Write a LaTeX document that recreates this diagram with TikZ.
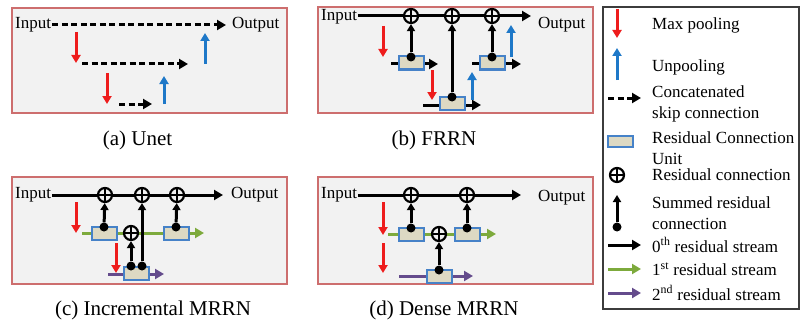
\documentclass[tikz,border=0pt]{standalone}
\usepackage{fontspec}
\setmainfont{Liberation Serif}
\usetikzlibrary{arrows.meta}
\definecolor{panelred}{RGB}{205,110,110}
\definecolor{panelgray}{RGB}{242,242,242}
\definecolor{poolred}{RGB}{238,28,28}
\definecolor{unpoolblue}{RGB}{30,120,200}
\definecolor{greenS}{RGB}{125,170,60}
\definecolor{purpleS}{RGB}{100,75,140}
\definecolor{rcublue}{RGB}{70,130,200}
\definecolor{rcufill}{RGB}{221,217,195}
\definecolor{legframe}{RGB}{60,60,60}
\begin{document}
\begin{tikzpicture}[x=1pt,y=-1pt,
  panel/.style={draw=panelred, fill=panelgray, line width=1.6pt, inner sep=0},
  lbl/.style={font=\fontsize{17}{21}\selectfont, inner sep=1pt},
  leg/.style={font=\fontsize{17}{21}\selectfont, inner sep=0, anchor=west, align=left},
  captxt/.style={font=\fontsize{21}{24}\selectfont, inner sep=0},
  rcu/.style={draw=rcublue, fill=rcufill, line width=2pt, minimum width=25pt, minimum height=13pt, inner sep=0},
  oplus/.style={circle, draw, line width=2.2pt, fill=panelgray, minimum size=14pt, inner sep=0,
    path picture={\draw[line width=1.8pt] (path picture bounding box.north) -- (path picture bounding box.south) (path picture bounding box.west) -- (path picture bounding box.east);}},
  sdot/.style={circle, fill=black, minimum size=9pt, inner sep=0},
  stream/.style={line width=3pt, -{Triangle[length=9pt,width=10pt]}},
  skipc/.style={stream, dash pattern=on 6pt off 3.5pt},
  pool/.style={draw=poolred, line width=3pt, -{Triangle[length=8pt,width=9pt]}},
  unpool/.style={draw=unpoolblue, line width=3pt, -{Triangle[length=8pt,width=9pt]}},
  summed/.style={line width=3pt, -{Triangle[length=7pt,width=8pt]}}
]
\useasboundingbox (0,0) rectangle (800,329);

% ================= (a) Unet =================
\node[panel, minimum width=275pt, minimum height=105pt] (pa) at (149.5,60.5) {};
\node[lbl, anchor=west] (ain) at (14,25) {Input};
\node[lbl, anchor=west] (aout) at (231,25) {Output};
\draw[skipc, shorten >=5pt] (ain) -- (aout);
\coordinate (a2s) at (82,64); \coordinate (a2e) at (188,64);
\coordinate (a3s) at (119,104); \coordinate (a3e) at (152,104);
\draw[skipc] (a2s) -- (a2e);
\draw[skipc] (a3s) -- (a3e);
\coordinate (ap1s) at (76,32); \coordinate (ap1e) at (76,63);
\coordinate (ap2s) at (107,73); \coordinate (ap2e) at (107,104);
\draw[pool] (ap1s) -- (ap1e);
\draw[pool] (ap2s) -- (ap2e);
\coordinate (au1s) at (205,64); \coordinate (au1e) at (205,33);
\coordinate (au2s) at (164,104); \coordinate (au2e) at (164,76);
\draw[unpool] (au1s) -- (au1e);
\draw[unpool] (au2s) -- (au2e);
\node[captxt] (capa) at (137.5,140) {(a) Unet};

% ================= (b) FRRN =================
\node[panel, minimum width=275pt, minimum height=106pt] (pb) at (455.5,60) {};
\node[lbl, anchor=west] (bin) at (320,17) {Input};
\node[lbl, anchor=west] (bout) at (537,25) {Output};
\coordinate (bend) at (531,16);
\draw[stream] (bin.east |- 0,16) -- (bend);
\coordinate (b1s) at (391,64); \coordinate (b1e) at (438,64);
\coordinate (b2s) at (423,105); \coordinate (b2e) at (481,105);
\coordinate (b3s) at (472,64); \coordinate (b3e) at (521,64);
\draw[stream] (b1s) -- (b1e);
\draw[stream] (b2s) -- (b2e);
\draw[stream] (b3s) -- (b3e);
\node[rcu] (brcu1) at (411,63) {};
\node[rcu] (brcu2) at (452,103) {};
\node[rcu] (brcu3) at (492,63) {};
\node[oplus] (bo1) at (411,16) {};
\node[oplus] (bo2) at (452,16) {};
\node[oplus] (bo3) at (492,16) {};
\node[sdot] (bd1) at (411,57) {};
\node[sdot] (bd2) at (452,97) {};
\node[sdot] (bd3) at (492,57) {};
\draw[summed] (bd1) -- (bo1);
\draw[summed] (bd2) -- (bo2);
\draw[summed] (bd3) -- (bo3);
\coordinate (bp1s) at (383,26); \coordinate (bp1e) at (383,57);
\coordinate (bp2s) at (432,70); \coordinate (bp2e) at (432,100);
\draw[pool] (bp1s) -- (bp1e);
\draw[pool] (bp2s) -- (bp2e);
\coordinate (bu1s) at (472,100); \coordinate (bu1e) at (472,72);
\coordinate (bu2s) at (511,57); \coordinate (bu2e) at (511,25);
\draw[unpool] (bu1s) -- (bu1e);
\draw[unpool] (bu2s) -- (bu2e);
\node[captxt] (capb) at (434,140) {(b) FRRN};

% ================= (c) Incremental MRRN =================
\node[panel, minimum width=275pt, minimum height=107pt] (pc) at (149.5,230.5) {};
\node[lbl, anchor=west] (cin) at (14,195) {Input};
\node[lbl, anchor=west] (cout) at (230,195) {Output};
\coordinate (cend) at (223,195);
\draw[stream] (cin) -- (cend);
\coordinate (cgs) at (82,233); \coordinate (cge) at (204,233);
\draw[stream, greenS] (cgs) -- (cge);
\coordinate (cps) at (108,274); \coordinate (cpe) at (164,274);
\draw[stream, purpleS] (cps) -- (cpe);
\node[rcu] (crcu1) at (104,233) {};
\node[rcu] (crcu2) at (176,233) {};
\node[rcu] (crcu3) at (136,273) {};
\node[oplus] (co1) at (105,195) {};
\node[oplus] (co2) at (142,195) {};
\node[oplus] (co3) at (177,195) {};
\node[oplus] (co4) at (131,233) {};
\node[sdot] (cd1) at (104,227) {};
\node[sdot] (cd2) at (176,227) {};
\node[sdot] (cd3) at (131,266) {};
\node[sdot] (cd4) at (142,266) {};
\draw[summed] (cd1) -- (co1);
\draw[summed] (cd2) -- (co3);
\draw[summed] (cd3) -- (co4);
\draw[summed] (cd4) -- (co2);
\coordinate (cp1s) at (76,202); \coordinate (cp1e) at (76,233);
\coordinate (cp2s) at (116,243); \coordinate (cp2e) at (116,273);
\draw[pool] (cp1s) -- (cp1e);
\draw[pool] (cp2s) -- (cp2e);
\node[captxt] (capc) at (153,310) {(c) Incremental MRRN};

% ================= (d) Dense MRRN =================
\node[panel, minimum width=275pt, minimum height=107pt] (pd) at (455.5,230.5) {};
\node[lbl, anchor=west] (din) at (320,195) {Input};
\node[lbl, anchor=west] (dout) at (537,198) {Output};
\coordinate (dend) at (521,195);
\draw[stream] (din) -- (dend);
\coordinate (dgs) at (388,234); \coordinate (dge) at (496,234);
\draw[stream, greenS] (dgs) -- (dge);
\coordinate (dps) at (399,276); \coordinate (dpe) at (473,276);
\draw[stream, purpleS] (dps) -- (dpe);
\node[rcu] (drcu1) at (411,234) {};
\node[rcu] (drcu2) at (467,234) {};
\node[rcu] (drcu3) at (439,276) {};
\node[oplus] (do1) at (411,195) {};
\node[oplus] (do2) at (467,195) {};
\node[oplus] (do3) at (439,234) {};
\node[sdot] (dd1) at (411,228) {};
\node[sdot] (dd2) at (467,228) {};
\node[sdot] (dd3) at (439,270) {};
\draw[summed] (dd1) -- (do1);
\draw[summed] (dd2) -- (do2);
\draw[summed] (dd3) -- (do3);
\coordinate (dp1s) at (383,202); \coordinate (dp1e) at (383,235);
\coordinate (dp2s) at (383,243); \coordinate (dp2e) at (383,273);
\draw[pool] (dp1s) -- (dp1e);
\draw[pool] (dp2s) -- (dp2e);
\node[captxt] (capd) at (444,310) {(d) Dense MRRN};

% ================= Legend =================
\node[draw=legframe, fill=white, line width=2pt, minimum width=196pt, minimum height=302pt, inner sep=0] (lg) at (701,158) {};
\coordinate (lp1s) at (617,9); \coordinate (lp1e) at (617,38);
\draw[pool] (lp1s) -- (lp1e);
\node[leg] (t1) at (652,25) {Max pooling};
\coordinate (lu1s) at (617,80); \coordinate (lu1e) at (617,48);
\draw[unpool] (lu1s) -- (lu1e);
\node[leg] (t2) at (652,67) {Unpooling};
\coordinate (lks) at (608,98); \coordinate (lke) at (641,98);
\draw[skipc] (lks) -- (lke);
\node[leg] (t3) at (652,104) {Concatenated\\skip connection};
\node[rcu, minimum height=11pt] (lrcu) at (620.5,141.5) {};
\node[leg] (t4) at (652,148.5) {Residual Connection\\Unit};
\node[oplus, fill=white] (lo) at (617,175) {};
\node[leg] (t5) at (652,175) {Residual connection};
\node[sdot] (ld) at (617,227) {};
\coordinate (lse) at (617,195);
\draw[summed] (ld) -- (lse);
\node[leg] (t6) at (652,213) {Summed residual\\connection};
\coordinate (l0s) at (608,245); \coordinate (l0e) at (641,245);
\draw[stream] (l0s) -- (l0e);
\node[leg] (t7) at (652,245) {0\textsuperscript{th} residual stream};
\coordinate (l1s) at (608,269); \coordinate (l1e) at (641,269);
\draw[stream, greenS] (l1s) -- (l1e);
\node[leg] (t8) at (652,269) {1\textsuperscript{st} residual stream};
\coordinate (l2s) at (608,293); \coordinate (l2e) at (641,293);
\draw[stream, purpleS] (l2s) -- (l2e);
\node[leg] (t9) at (652,293) {2\textsuperscript{nd} residual stream};
\end{tikzpicture}
\end{document}
